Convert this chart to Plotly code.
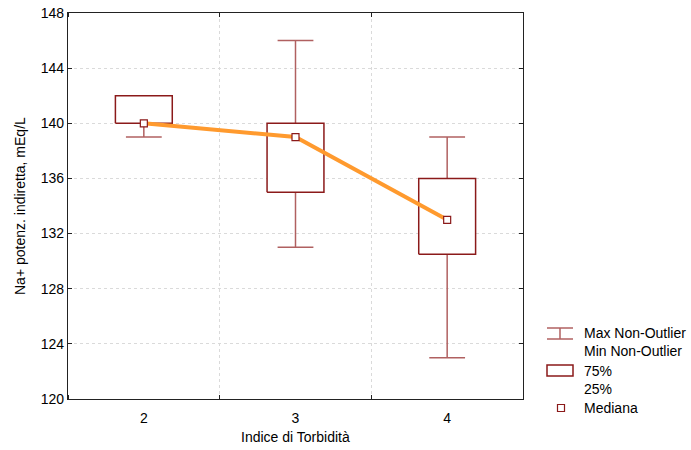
import plotly.graph_objects as go

categories = [2, 3, 4]
q1 = [140.0, 135.0, 130.5]
q3 = [142.0, 140.0, 136.0]
medians = [140.0, 139.0, 133.0]
min_nonout = [139.0, 131.0, 123.0]
max_nonout = [142.0, 146.0, 139.0]
y_ticks = [120, 124, 128, 132, 136, 140, 144, 148]

BOX_COL = "#8B1A1A"
WHISK_COL = "#B06060"
ORANGE = "#FF9A2E"
FONT = "Liberation Sans, Arial, sans-serif"
GRID = "#DADADA"

box_hw = 0.1875
cap_hw = 0.118

fig = go.Figure()

# whiskers
for c, lo, hi, a, b in zip(categories, min_nonout, max_nonout, q1, q3):
    xs = [c, c, None, c, c, None, c - cap_hw, c + cap_hw, None, c - cap_hw, c + cap_hw]
    ys = [b, hi, None, lo, a, None, hi, hi, None, lo, lo]
    fig.add_trace(go.Scatter(x=xs, y=ys, mode="lines", line=dict(color=WHISK_COL, width=1.5),
                             hoverinfo="skip", showlegend=False))
# boxes
for c, a, b in zip(categories, q1, q3):
    fig.add_trace(go.Scatter(x=[c - box_hw, c + box_hw, c + box_hw, c - box_hw, c - box_hw],
                             y=[a, a, b, b, a], mode="lines", fill="toself", fillcolor="white",
                             line=dict(color=BOX_COL, width=1.5), hoverinfo="skip", showlegend=False))
# median line
fig.add_trace(go.Scatter(x=categories, y=medians, mode="lines", line=dict(color=ORANGE, width=4),
                         showlegend=False))
# median markers
fig.add_trace(go.Scatter(x=categories, y=medians, mode="markers",
                         marker=dict(symbol="square", size=7, color="white",
                                     line=dict(color=BOX_COL, width=1.2)),
                         showlegend=False))

L, R, T, B = 68, 523, 13, 399
W, H = R - L, B - T
def px(x): return (x - L) / W
def py(y): return (B - y) / H

shapes = []
# legend whisker icon
shapes.append(dict(type="line", xref="paper", yref="paper", x0=px(547), x1=px(573), y0=py(328), y1=py(328), line=dict(color=WHISK_COL, width=1.5)))
shapes.append(dict(type="line", xref="paper", yref="paper", x0=px(547), x1=px(573), y0=py(339), y1=py(339), line=dict(color=WHISK_COL, width=1.5)))
shapes.append(dict(type="line", xref="paper", yref="paper", x0=px(560), x1=px(560), y0=py(328), y1=py(339), line=dict(color=WHISK_COL, width=1.5)))
# legend box icon
shapes.append(dict(type="rect", xref="paper", yref="paper", x0=px(547), x1=px(573), y0=py(376), y1=py(365), line=dict(color=BOX_COL, width=1.5)))
# legend median icon
shapes.append(dict(type="rect", xref="paper", yref="paper", x0=px(557.5), x1=px(564.5), y0=py(411.5), y1=py(404.5), line=dict(color=BOX_COL, width=1.2), fillcolor="white"))

annos = []
for txt, yy in [("Max Non-Outlier", 333), ("Min Non-Outlier", 351), ("75%", 371), ("25%", 389), ("Mediana", 408)]:
    annos.append(dict(text=txt, xref="paper", yref="paper", x=px(582), y=py(yy), xanchor="left", yanchor="middle",
                      showarrow=False, font=dict(size=14, color="black", family=FONT)))
# axis titles
annos.append(dict(text="Indice di Torbidità", xref="paper", yref="paper", x=px(295), y=py(437),
                  xanchor="center", yanchor="middle", showarrow=False, font=dict(size=14, family=FONT)))
annos.append(dict(text="Na+ potenz. indiretta, mEq/L", xref="paper", yref="paper", x=px(20), y=py(206),
                  xanchor="center", yanchor="middle", textangle=-90, showarrow=False, font=dict(size=14, family=FONT)))

fig.update_layout(
    width=691, height=450, margin=dict(l=L, r=691 - R, t=T, b=450 - B, autoexpand=False),
    paper_bgcolor="white", plot_bgcolor="white",
    font=dict(family=FONT, size=14, color="black"),
    shapes=shapes, annotations=annos,
    xaxis=dict(range=[1.5, 4.5], tickvals=categories, ticktext=[str(c) for c in categories],
               showgrid=False, zeroline=False, showline=True, linecolor="#222", linewidth=1.3, mirror="allticks",
               ticks="", ticklabelstandoff=6, automargin=False,
               minor=dict(tick0=2.5, dtick=1, showgrid=True, gridcolor=GRID, griddash="dot", gridwidth=1,
                          ticks="inside", ticklen=4, tickcolor="#222")),
    yaxis=dict(range=[120, 148], tickvals=y_ticks, showgrid=True, gridcolor=GRID, griddash="dot",
               zeroline=False, showline=True, linecolor="#222", linewidth=1.3, mirror="ticks",
               ticks="inside", ticklen=4, tickcolor="#222", automargin=False),
)

fig.write_html("out.html")
